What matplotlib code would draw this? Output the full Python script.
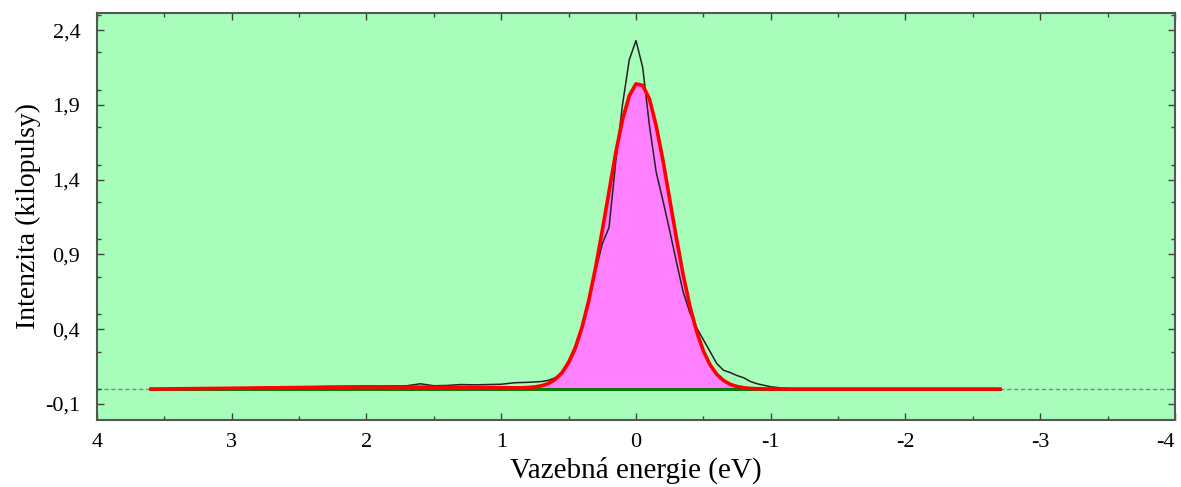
import numpy as np
import matplotlib.pyplot as plt
from matplotlib.ticker import MultipleLocator, FuncFormatter

# measured spectrum (binding energy in eV, intensity in kilopulses)
energy_meas = [3.6, 3.5, 3.4, 3.3, 3.2, 3.1, 3.0, 2.9, 2.8, 2.7, 2.6, 2.5, 2.4, 2.3,
               2.2, 2.1, 2.0, 1.9, 1.8, 1.7, 1.6, 1.5, 1.4, 1.3, 1.2, 1.1, 1.0, 0.9,
               0.8, 0.7, 0.65, 0.6, 0.55, 0.5, 0.45, 0.4, 0.35, 0.3, 0.25, 0.2, 0.15,
               0.1, 0.05, 0.0, -0.05, -0.1, -0.15, -0.2, -0.25, -0.3, -0.35, -0.4,
               -0.45, -0.5, -0.55, -0.6, -0.65, -0.7, -0.75, -0.8, -0.85, -0.9, -0.95,
               -1.0, -1.1, -1.2, -1.4, -1.6, -1.8, -2.0, -2.2, -2.4, -2.7]
intensity_meas = [0.000, 0.002, 0.003, 0.004, 0.005, 0.006, 0.007, 0.008, 0.010, 0.011,
                  0.012, 0.014, 0.015, 0.017, 0.018, 0.019, 0.022, 0.020, 0.021, 0.022,
                  0.035, 0.022, 0.024, 0.030, 0.028, 0.030, 0.032, 0.042, 0.045, 0.050,
                  0.058, 0.075, 0.11, 0.165, 0.26, 0.40, 0.58, 0.79, 0.97, 1.08, 1.52,
                  1.90, 2.20, 2.33, 2.15, 1.76, 1.45, 1.26, 1.06, 0.85, 0.65, 0.51,
                  0.41, 0.33, 0.25, 0.17, 0.125, 0.11, 0.09, 0.075, 0.05, 0.035, 0.025,
                  0.015, 0.005, 0.0, 0.0, 0.0, 0.0, 0.0, 0.0, 0.0, 0.0]

# fitted component
energy_fit = [3.6, 3.0, 2.5, 2.0, 1.5, 1.0, 0.85, 0.8, 0.75, 0.7, 0.65, 0.6, 0.55, 0.5,
              0.45, 0.4, 0.35, 0.3, 0.25, 0.2, 0.15, 0.1, 0.05, 0.0, -0.05, -0.1,
              -0.15, -0.2, -0.25, -0.3, -0.35, -0.4, -0.45, -0.5, -0.55, -0.6, -0.65,
              -0.7, -0.75, -0.8, -0.85, -0.9, -1.0, -1.5, -2.0, -2.7]
intensity_fit = [0.0, 0.005, 0.010, 0.014, 0.012, 0.009, 0.008, 0.010, 0.014, 0.022,
                 0.037, 0.064, 0.108, 0.178, 0.277, 0.414, 0.593, 0.811, 1.06, 1.32,
                 1.58, 1.80, 1.96, 2.04, 2.03, 1.94, 1.76, 1.53, 1.27, 1.01, 0.765,
                 0.555, 0.385, 0.255, 0.162, 0.098, 0.057, 0.031, 0.017, 0.0085, 0.004,
                 0.002, 0.0, 0.0, 0.0, 0.0]

background = 0.0
x_ticks = [4, 3, 2, 1, 0, -1, -2, -3, -4]
y_ticks = [-0.1, 0.4, 0.9, 1.4, 1.9, 2.4]

plt.rcParams['font.family'] = ['Liberation Serif', 'DejaVu Serif']

fig = plt.figure(figsize=(11.81, 4.87), dpi=100)
ax = fig.add_axes([0.0821, 0.1376, 0.9128, 0.8357])
ax.set_facecolor('#a9fdbb')

ax.axhline(background, color='#5f8f9a', lw=1.0, ls=(0, (3, 2)), zorder=1)

ef = np.array(energy_fit)
fi = np.array(intensity_fit)
ax.fill_between(ef, background, fi, color='#ff80ff', lw=0, zorder=2)
ax.plot([energy_fit[0], energy_fit[-1]], [background, background], color='#0a7a0a', lw=2.2, zorder=3)
ax.plot(energy_meas, intensity_meas, color='#222222', lw=1.1, zorder=4)
ax.plot(energy_fit, intensity_fit, color='#ff0000', lw=2.6, zorder=5)

ax.set_xlim(4, -4)
ax.set_ylim(-0.207, 2.514)
ax.set_xticks(x_ticks)
ax.set_yticks(y_ticks)
ax.xaxis.set_minor_locator(MultipleLocator(0.5))
ax.yaxis.set_minor_locator(MultipleLocator(0.25))
ax.yaxis.set_major_formatter(FuncFormatter(lambda v, p: f"{v:.1f}".replace('.', ',')))
ax.xaxis.set_major_formatter(FuncFormatter(lambda v, p: f"{v:g}"))

ax.tick_params(which='both', direction='in', top=True, right=True, color='#404040',
               labelsize=16)
ax.tick_params(axis='x', pad=9.5)
ax.tick_params(axis='y', pad=12)
ax.tick_params(which='major', length=5, width=1)
ax.tick_params(which='minor', length=3, width=1)
for s in ax.spines.values():
    s.set_color('#555555')
    s.set_linewidth(1.5)

# keep the last x label inside the figure
ax.get_xticklabels()[-1].set_horizontalalignment('right')

ax.set_xlabel("Vazebná energie (eV)", fontsize=21, labelpad=3)
ax.set_ylabel("Intenzita (kilopulsy)", fontsize=20, labelpad=3)

fig.savefig("out.png", dpi=100)
